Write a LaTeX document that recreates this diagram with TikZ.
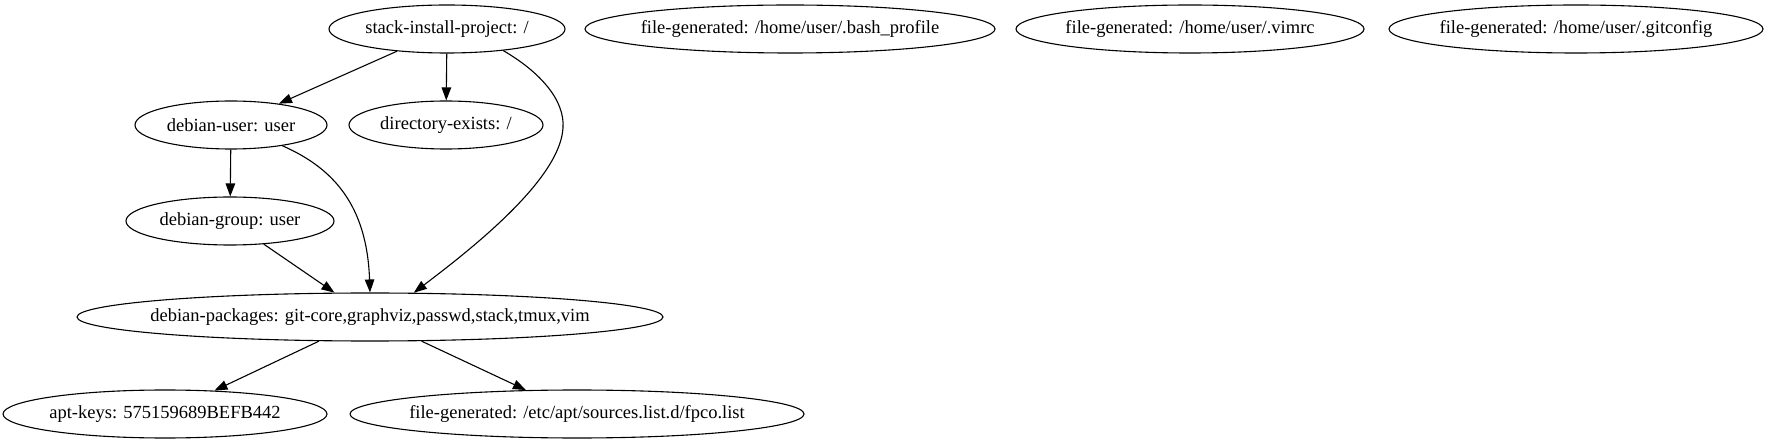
\documentclass[tikz,border=0pt]{standalone}
\usepackage{fontspec}
\setmainfont{Liberation Serif}
\usetikzlibrary{shapes.geometric,arrows.meta}
\tikzset{
  gnode/.style={draw=black, line width=1.1pt, ellipse, inner sep=0pt, minimum height=48pt, font=\fontsize{18.5}{20}\selectfont},
  gedge/.style={draw=black, line width=1.1pt, -{Triangle[length=13pt,width=9.5pt]}}
}
\newcommand{\lbl}[1]{\makebox[0pt]{#1}}
\begin{document}
\begin{tikzpicture}[x=1pt,y=-1pt]
\useasboundingbox (0,0) rectangle (1769,443);
% top row
\node[gnode, minimum width=236pt] (stack) at (447,29) {\lbl{stack-install-project: /}};
\node[gnode, minimum width=410pt] (bash) at (790,29) {\lbl{file-generated: /home/user/.bash\_profile}};
\node[gnode, minimum width=348pt] (vimrc) at (1190,29) {\lbl{file-generated: /home/user/.vimrc}};
\node[gnode, minimum width=374pt] (gitcfg) at (1576,29) {\lbl{file-generated: /home/user/.gitconfig}};
% rank 1
\node[gnode, minimum width=192pt] (duser) at (231,125) {\lbl{debian-user: user}};
\node[gnode, minimum width=194pt] (direx) at (446,125) {\lbl{directory-exists: /}};
% rank 2
\node[gnode, minimum width=208pt] (dgroup) at (230,221) {\lbl{debian-group: user}};
% rank 3
\node[gnode, minimum width=586pt] (dpkgs) at (370,317) {\lbl{debian-packages: git-core,graphviz,passwd,stack,tmux,vim}};
% rank 4
\node[gnode, minimum width=324pt] (apt) at (165,414) {\lbl{apt-keys: 575159689BEFB442}};
\node[gnode, minimum width=454pt] (fpco) at (577,414) {\lbl{file-generated: /etc/apt/sources.list.d/fpco.list}};
% edges
\draw[gedge] (stack) -- (duser);
\draw[gedge] (stack) -- (direx);
\draw[gedge] (stack.-21.6) .. controls (540,72) and (565,100) .. (563,128) .. controls (560,180) and (470,250) .. (dpkgs.29);
\draw[gedge] (duser) -- (dgroup);
\draw[gedge] (duser.-22.4) .. controls (333,168) and (367,205) .. (dpkgs.north);
\draw[gedge] (dgroup) -- (dpkgs);
\draw[gedge] (dpkgs) -- (apt);
\draw[gedge] (dpkgs) -- (fpco);
\end{tikzpicture}
\end{document}
